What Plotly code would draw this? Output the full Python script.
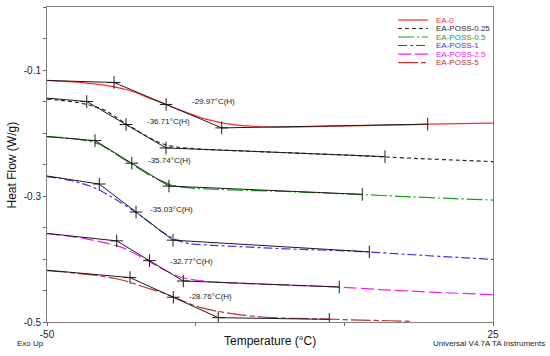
import numpy as np
import plotly.graph_objects as go

# ---------------- data ----------------
names = ["EA-0", "EA-POSS-0.25", "EA-POSS-0.5", "EA-POSS-1", "EA-POSS-2.5", "EA-POSS-5"]
tg_labels = ["-29.97°C(H)", "-36.71°C(H)", "-35.74°C(H)", "-35.03°C(H)", "-32.77°C(H)", "-28.76°C(H)"]
tg_mid = [-29.97, -36.71, -35.74, -35.03, -32.77, -28.76]

# DSC curves: temperature (°C) and heat flow (W/g)
t_ea0 = [-50, -46.97, -44.45, -41.93, -40.25, -38.73, -36.88, -35.2, -33.52, -31.84, -29.99, -27.97,
         -25.95, -24.27, -22.26, -20.07, -17.55, -15.02, -12.5, -7.46, 0.95, 9.36, 14.07, 19.45, 25]
h_ea0 = [-0.1166, -0.1179, -0.1195, -0.1219, -0.1239, -0.1267, -0.1306, -0.1354, -0.1418, -0.1481,
         -0.1547, -0.1625, -0.1696, -0.1752, -0.1804, -0.1847, -0.1879, -0.1897, -0.1906, -0.1903,
         -0.1887, -0.1871, -0.1860, -0.1850, -0.1844]

t_p025 = [-50, -47.81, -45.29, -43.27, -41.59, -39.91, -38.23, -36.55, -34.87, -33.18, -31.5, -29.99,
          -27.97, -25.95, -22.59, -15.87, -7.46, 0.95, 6.83, 12.72, 19.45, 25]
h_p025 = [-0.1462, -0.1481, -0.1510, -0.1545, -0.1593, -0.1656, -0.1760, -0.1863, -0.1959, -0.2054,
          -0.2134, -0.2189, -0.2226, -0.2245, -0.2264, -0.2290, -0.2321, -0.2353, -0.2380, -0.2407,
          -0.2433, -0.2455]

t_p05 = [-50, -47.81, -45.29, -42.77, -41.09, -39.41, -37.72, -35.76, -34.36, -32.68, -31.0, -29.32,
         -27.64, -25.11, -21.75, -17.55, -12.5, -7.46, -2.41, 2.97, 9.36, 17.76, 25]
h_p05 = [-0.2057, -0.2070, -0.2094, -0.2134, -0.2181, -0.2277, -0.2380, -0.2492, -0.2574, -0.2675,
         -0.2751, -0.2818, -0.2854, -0.2878, -0.2893, -0.2909, -0.2921, -0.2937, -0.2956, -0.2977,
         -0.3006, -0.3039, -0.3064]

t_p1 = [-50, -47.81, -45.29, -42.77, -41.21, -39.41, -37.72, -36.04, -34.92, -32.68, -31.0, -29.32,
        -27.97, -25.95, -22.59, -17.55, -12.5, -7.46, -0.73, 4.14, 12.72, 19.45, 25]
h_p1 = [-0.2691, -0.2722, -0.2770, -0.2842, -0.2905, -0.3001, -0.3096, -0.3197, -0.3267, -0.3426,
        -0.3547, -0.3645, -0.3709, -0.3757, -0.3780, -0.3804, -0.3828, -0.3847, -0.3868, -0.3889,
        -0.3940, -0.3976, -0.4008]

t_p25 = [-50, -46.97, -43.61, -41.09, -38.28, -36.88, -35.2, -32.68, -31.0, -29.32, -27.97, -25.95,
         -23.43, -20.07, -14.18, -7.46, -0.9, 6.0, 14.4, 25]
h_p25 = [-0.3597, -0.3629, -0.3677, -0.3725, -0.3788, -0.3836, -0.3916, -0.4046, -0.4138, -0.4218,
         -0.4274, -0.4321, -0.4353, -0.4374, -0.4398, -0.4422, -0.4446, -0.4485, -0.4525, -0.4565]

t_p5 = [-50, -46.13, -41.93, -38.57, -36.04, -33.52, -31.0, -28.76, -26.8, -25.11, -23.43, -21.25,
        -19.23, -16.71, -13.68, -9.98, -2.58, 2.63, 7.68, 11.32]
h_p5 = [-0.4183, -0.4215, -0.4258, -0.4310, -0.4369, -0.4449, -0.4520, -0.4603, -0.4679, -0.4743,
        -0.4788, -0.4831, -0.4862, -0.4894, -0.4921, -0.4939, -0.4955, -0.4971, -0.4980, -0.4990]

curves_t = [t_ea0, t_p025, t_p05, t_p1, t_p25, t_p5]
curves_h = [h_ea0, h_p025, h_p05, h_p1, h_p25, h_p5]

# Glass-transition analysis: baseline start, onset, end, end-limit
start_h = [-0.1166, -0.1446, -0.2057, -0.2683, -0.3594, -0.4178]
onset_t = [-38.73, -43.32, -41.93, -41.21, -38.28, -36.04]
onset_h = [-0.1198, -0.1500, -0.2121, -0.2810, -0.3712, -0.4295]
end_t = [-20.62, -29.99, -29.49, -28.81, -27.08, -21.20]
end_h = [-0.1919, -0.2237, -0.2842, -0.3701, -0.4349, -0.4931]
limit_t = [14.02, 6.84, 3.02, 4.20, -0.85, -2.53]
limit_h = [-0.1860, -0.2375, -0.2974, -0.3887, -0.4444, -0.4958]

# ---------------- styles ----------------
colors = ["#FF2A2A", "#2A2A2A", "#1C9E1C", "#3838F0", "#F020F0", "#B83434"]
dashes = ["solid", "4px,3px", "16px,3px,2px,3px", "9px,3px,3px,3px", "13px,4px", "20px,3px,5px,3px"]
label_shift = [(24, 3), (19, 3), (14, 3), (12, 3), (19, -1), (14, 1)]
FONT = "Arial, Liberation Sans, sans-serif"
TAN = "#1a1a1a"

fig = go.Figure()

for i in range(6):
    fig.add_trace(go.Scatter(
        x=curves_t[i], y=curves_h[i], mode="lines",
        line=dict(color=colors[i], width=1.2, dash=dashes[i], shape="spline", smoothing=0.6),
        name=names[i], showlegend=False, hoverinfo="skip"))

annotations = []
shapes = []
for i in range(6):
    tx = [-50, onset_t[i], end_t[i], limit_t[i]]
    ty = [start_h[i], onset_h[i], end_h[i], limit_h[i]]
    fig.add_trace(go.Scatter(x=tx, y=ty, mode="lines", line=dict(color=TAN, width=1),
                             showlegend=False, hoverinfo="skip"))
    mid_h = float(np.interp(tg_mid[i], [onset_t[i], end_t[i]], [onset_h[i], end_h[i]]))
    fig.add_trace(go.Scatter(
        x=[onset_t[i], tg_mid[i], end_t[i]], y=[onset_h[i], mid_h, end_h[i]], mode="markers",
        marker=dict(symbol="cross-thin", size=9, line=dict(color=TAN, width=1)),
        showlegend=False, hoverinfo="skip"))
    fig.add_trace(go.Scatter(
        x=[limit_t[i]], y=[limit_h[i]], mode="markers",
        marker=dict(symbol="line-ns", size=9, line=dict(color=TAN, width=1)),
        showlegend=False, hoverinfo="skip"))
    annotations.append(dict(x=tg_mid[i], y=mid_h, xref="x", yref="y", text=tg_labels[i],
                            showarrow=False, xanchor="left", yanchor="middle",
                            xshift=label_shift[i][0], yshift=label_shift[i][1],
                            font=dict(family=FONT, size=8, color="#222")))

# legend (drawn manually for the compact TA-style layout)
leg_x0, leg_x1, leg_tx = 0.787, 0.854, 0.868
leg_y0, leg_dy = 0.9587, 0.027
for i in range(6):
    yy = leg_y0 - i * leg_dy
    shapes.append(dict(type="line", xref="paper", yref="paper", x0=leg_x0, x1=leg_x1, y0=yy, y1=yy,
                       line=dict(color=colors[i], width=1.2, dash=dashes[i])))
    annotations.append(dict(x=leg_tx, y=yy, xref="paper", yref="paper", text=names[i],
                            showarrow=False, xanchor="left", yanchor="middle",
                            font=dict(family=FONT, size=8, color=colors[i])))

# axis titles and footer texts
annotations.append(dict(x=0.5, y=-0.0603, xref="paper", yref="paper", text="Temperature (°C)",
                        showarrow=False, xanchor="center", yanchor="middle",
                        font=dict(family=FONT, size=12, color="#111")))
annotations.append(dict(x=-0.0785, y=0.5, xref="paper", yref="paper", text="Heat Flow (W/g)",
                        showarrow=False, xanchor="center", yanchor="middle", textangle=-90,
                        font=dict(family=FONT, size=12, color="#111")))
annotations.append(dict(x=-0.0717, y=-0.0667, xref="paper", yref="paper", text="Exo Up",
                        showarrow=False, xanchor="left", yanchor="middle",
                        font=dict(family=FONT, size=8, color="#222")))
annotations.append(dict(x=(547 - 47) / 446, y=-0.0667, xref="paper", yref="paper",
                        text="Universal V4.7A TA Instruments", showarrow=False,
                        xanchor="right", yanchor="middle",
                        font=dict(family=FONT, size=8, color="#222")))

y_ticks = [round(v, 2) for v in np.arange(-0.5, 0.001, 0.05)]
y_text = ["-0.5" if abs(v + 0.5) < 1e-9 else "-0.3" if abs(v + 0.3) < 1e-9 else "-0.1" if abs(v + 0.1) < 1e-9 else "" for v in y_ticks]

fig.update_layout(
    width=550, height=356,
    margin=dict(l=47, r=57, t=7, b=34, autoexpand=False),
    paper_bgcolor="white", plot_bgcolor="white",
    font=dict(family=FONT, size=10, color="#222"),
    showlegend=False,
    hovermode=False,
    xaxis=dict(range=[-50, 25], tickvals=[-50, -25, 0, 25], ticktext=["-50", "", "", "25"],
               ticks="outside", ticklen=3, tickcolor="#666", showline=True, linecolor="#808080",
               linewidth=1, mirror=True, showgrid=False, zeroline=False, automargin=False,
               tickfont=dict(family=FONT, size=10, color="#222")),
    yaxis=dict(range=[-0.5, 0], tickvals=y_ticks, ticktext=y_text,
               ticks="outside", ticklen=3, tickcolor="#666", showline=True, linecolor="#808080",
               linewidth=1, mirror=True, showgrid=False, zeroline=False, automargin=False,
               tickfont=dict(family=FONT, size=10, color="#222")),
    annotations=annotations,
    shapes=shapes,
)

fig.write_html("out.html", config={"displayModeBar": False},
               post_script="document.body.style.margin='0';")
